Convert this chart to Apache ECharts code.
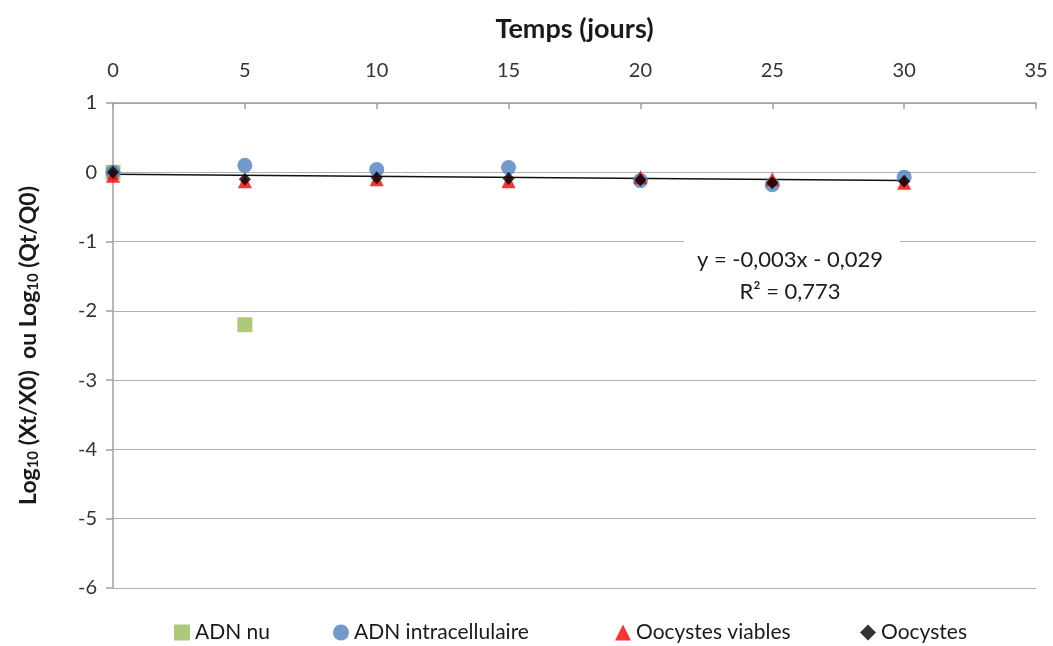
<!DOCTYPE html>
<html><head><meta charset="utf-8">
<script src="https://cdn.jsdelivr.net/npm/echarts@6/dist/echarts.min.js"></script>
<style>html,body{margin:0;padding:0;background:#fff}#c{width:1053px;height:646px}</style>
</head><body><div id="c"></div>
<script>
const xTicks = [0, 5, 10, 15, 20, 25, 30, 35];
const yTicks = [1, 0, -1, -2, -3, -4, -5, -6];
const days = [0, 5, 10, 15, 20, 25, 30];
const adnNuDays = [0, 5];
const adnNu = [0, -2.2];
const adnIntra = [0, 0.1, 0.04, 0.07, -0.12, -0.18, -0.07];
const oocystesViables = [-0.05, -0.13, -0.1, -0.13, -0.07, -0.1, -0.15];
const oocystes = [0, -0.1, -0.08, -0.09, -0.11, -0.15, -0.13];
const trendX = [0, 30];
const trendY = [-0.029, -0.119];
const legendNames = ['ADN nu', 'ADN intracellulaire', 'Oocystes viables', 'Oocystes'];
const eqLine1 = 'y = -0,003x - 0,029';
const eqLine2 = 'R² = 0,773';

const font = 'Lato, "Open Sans", sans-serif';
const pair = (xs, ys) => xs.map((x, i) => [x, ys[i]]);
const legendLeft = [174, 333, 615, 860];

const chart = echarts.init(document.getElementById('c'), null, {renderer: 'canvas'});
chart.setOption({
  animation: false,
  backgroundColor: '#fff',
  textStyle: {fontFamily: font},
  grid: {left: 113, right: 17, top: 103, bottom: 58, containLabel: false},
  xAxis: {
    type: 'value', position: 'top', min: 0, max: 35, interval: 5,
    name: 'Temps (jours)', nameLocation: 'middle', nameGap: 60,
    nameTextStyle: {fontFamily: font, fontSize: 27, fontWeight: 'bold', color: '#1a1a1a'},
    axisLine: {show: true, onZero: false, lineStyle: {color: '#a0a0a0', width: 1.5}},
    axisTick: {show: true, inside: true, length: 6, lineStyle: {color: '#a0a0a0', width: 1.5}},
    axisLabel: {fontFamily: font, fontSize: 20, color: '#333', margin: 22,
      formatter: v => xTicks.includes(v) ? String(v) : ''},
    splitLine: {show: false}
  },
  yAxis: {
    type: 'value', min: -6, max: 1, interval: 1,
    name: '{b|Log}{s|10}{b| (Xt/X0)  ou Log}{s|10}{b| (Qt/Q0)}',
    nameLocation: 'middle', nameGap: 72, nameRotate: 90,
    nameTextStyle: {rich: {
      b: {fontFamily: font, fontSize: 23, fontWeight: 'bold', color: '#1a1a1a'},
      s: {fontFamily: font, fontSize: 15, fontWeight: 'bold', color: '#1a1a1a', verticalAlign: 'bottom', padding: [10, 0, 0, 0]}
    }},
    axisLine: {show: true, onZero: false, lineStyle: {color: '#a0a0a0', width: 1.5}},
    axisTick: {show: true, length: 7, lineStyle: {color: '#a0a0a0', width: 1.5}},
    axisLabel: {fontFamily: font, fontSize: 20, color: '#333', margin: 16,
      formatter: v => yTicks.includes(v) ? String(v) : ''},
    splitLine: {show: true, lineStyle: {color: '#b0b0b0', width: 1}}
  },
  legend: legendNames.map((n, i) => ({
    left: legendLeft[i], top: 622, padding: 0, itemGap: 0, itemWidth: 16, itemHeight: 16,
    textStyle: {fontFamily: font, fontSize: 21, color: '#1a1a1a'},
    data: [n]
  })),
  series: [
    {name: 'trend', type: 'line', data: pair(trendX, trendY), symbol: 'none', z: 1,
      lineStyle: {color: '#111', width: 1.5}, silent: true},
    {name: legendNames[0], type: 'scatter', symbol: 'rect', symbolSize: 15, z: 2,
      itemStyle: {color: '#9bbb59'}, data: pair(adnNuDays, adnNu)},
    {name: legendNames[1], type: 'scatter', symbol: 'circle', symbolSize: 15, z: 3,
      itemStyle: {color: '#4f81bd'}, data: pair(days, adnIntra)},
    {name: legendNames[2], type: 'scatter', symbol: 'triangle', symbolSize: 14, z: 4,
      itemStyle: {color: '#ff0000'}, data: pair(days, oocystesViables)},
    {name: legendNames[3], type: 'scatter', symbol: 'diamond', symbolSize: [12, 13], z: 5,
      itemStyle: {color: '#000'}, data: pair(days, oocystes)}
  ],
  graphic: [
    {type: 'rect', shape: {x: 684, y: 236, width: 216, height: 70}, style: {fill: '#fff'}, z: 10},
    {type: 'text', x: 790, y: 260, z: 11, style: {text: eqLine1, fontFamily: font, fontSize: 22, fill: '#1a1a1a', align: 'center', verticalAlign: 'middle'}},
    {type: 'text', x: 790, y: 292, z: 11, style: {text: eqLine2, fontFamily: font, fontSize: 22, fill: '#1a1a1a', align: 'center', verticalAlign: 'middle'}}
  ]
});
</script></body></html>
